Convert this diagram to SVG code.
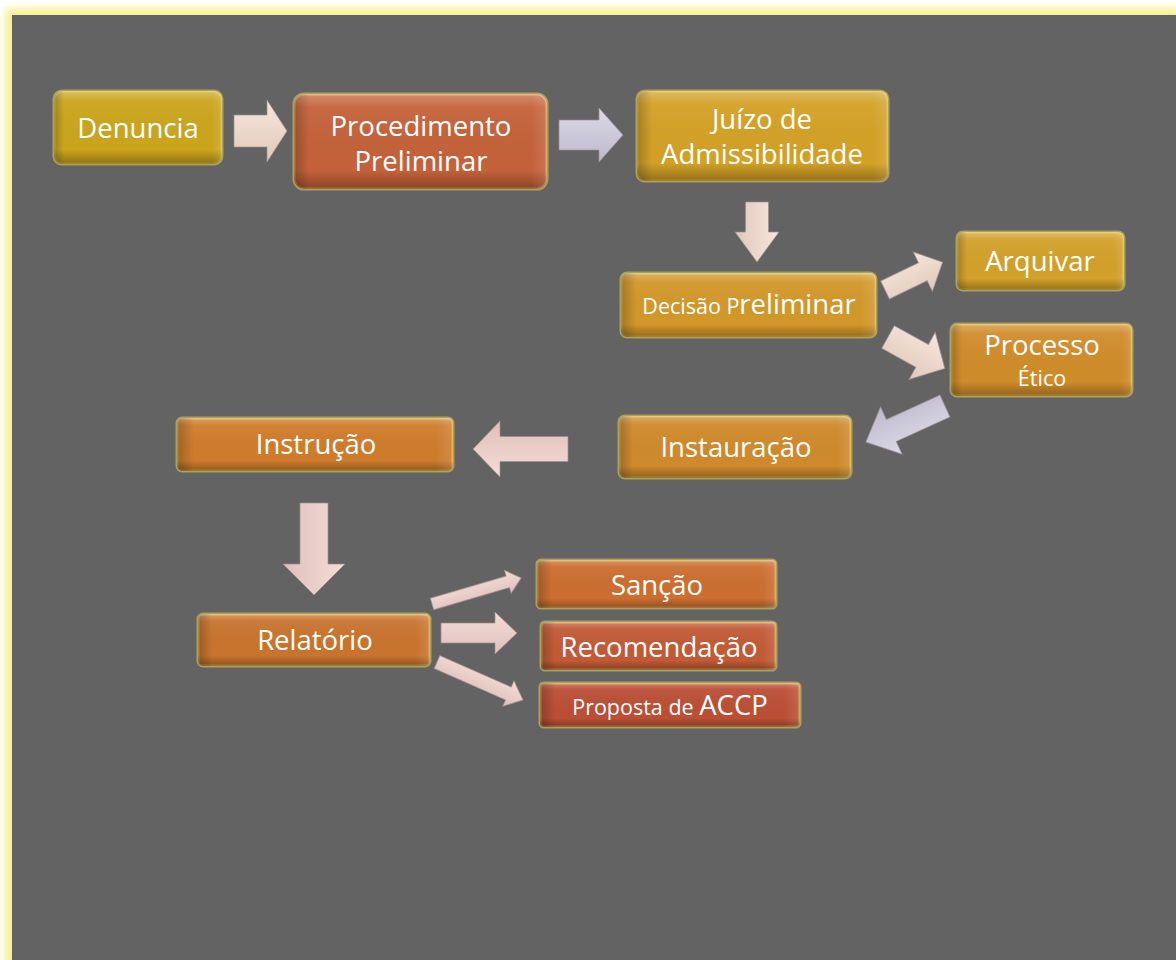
<svg xmlns="http://www.w3.org/2000/svg" width="1176" height="960" viewBox="0 0 1176 960">
<defs>
<filter id="blur" x="-5%" y="-5%" width="110%" height="110%"><feGaussianBlur stdDeviation="5"/></filter>
<linearGradient id="vb" x1="0" y1="0" x2="0" y2="1">
<stop offset="0" stop-color="#fff" stop-opacity="0.28"/>
<stop offset="0.14" stop-color="#fff" stop-opacity="0.05"/>
<stop offset="0.8" stop-color="#000" stop-opacity="0"/>
<stop offset="1" stop-color="#000" stop-opacity="0.3"/>
</linearGradient>
<linearGradient id="hb" x1="0" y1="0" x2="1" y2="0">
<stop offset="0" stop-color="#000" stop-opacity="0.22"/>
<stop offset="0.06" stop-color="#000" stop-opacity="0"/>
<stop offset="0.94" stop-color="#fff" stop-opacity="0"/>
<stop offset="1" stop-color="#fff" stop-opacity="0.12"/>
</linearGradient>
<linearGradient id="peach" x1="0" y1="0" x2="0" y2="1">
<stop offset="0" stop-color="#f6e6dc"/><stop offset="1" stop-color="#e2c8bb"/>
</linearGradient>
<linearGradient id="lav" x1="0" y1="0" x2="0" y2="1">
<stop offset="0" stop-color="#dcdae6"/><stop offset="1" stop-color="#bdb9cc"/>
</linearGradient>
<linearGradient id="pink" x1="0" y1="0" x2="0" y2="1">
<stop offset="0" stop-color="#f4dcd8"/><stop offset="1" stop-color="#e0c0bb"/>
</linearGradient>
</defs>
<style>
.box{stroke:#e9d45c;stroke-opacity:0.55;stroke-width:3}
.ov{stroke:none}
.t{fill:#fff;font-family:"Open Sans","Liberation Sans",sans-serif;font-size:27.5px;text-anchor:middle}
.s{font-size:21.5px}
.arrow{stroke:#9c8f8a;stroke-width:1;stroke-opacity:0.7}
.pe{fill:url(#peach)}
.la{fill:url(#lav)}
.pi{fill:url(#pink)}
</style>
<rect x="0" y="0" width="1176" height="960" fill="#ffffff"/>
<rect x="12" y="15" width="1164" height="945" fill="none" stroke="#f7ee7c" stroke-width="12" filter="url(#blur)"/>
<rect x="12" y="15" width="1164" height="945" fill="#636363"/>

<g id="connectors">
<path class="arrow pe" transform="translate(234,131)" d="M0,-16 L33,-16 L33,-31 L53,0 L33,31 L33,16 L0,16Z"/>
<path class="arrow la" transform="translate(559,135)" d="M0,-15 L40,-15 L40,-27 L64,0 L40,27 L40,15 L0,15Z"/>
<path class="arrow pe" transform="translate(757,202) rotate(90)" d="M0,-11.5 L30,-11.5 L30,-22 L60,0 L30,22 L30,11.5 L0,11.5Z"/>
<path class="arrow pe" transform="translate(885,290) rotate(-25.8)" d="M0,-10 L42,-10 L42,-22 L64,0 L42,22 L42,10 L0,10Z"/>
<path class="arrow pe" transform="translate(888,337) rotate(29)" d="M0,-13 L39,-13 L39,-27 L65,0 L39,27 L39,13 L0,13Z"/>
<path class="arrow la" transform="translate(945,406) rotate(155.5)" d="M0,-12 L59,-12 L59,-26 L87,0 L59,26 L59,12 L0,12Z"/>
<path class="arrow pi" transform="translate(568,449) rotate(180)" d="M0,-12.5 L68,-12.5 L68,-28 L95,0 L68,28 L68,12.5 L0,12.5Z"/>
<path class="arrow pi" transform="translate(314,503) rotate(90)" d="M0,-14 L61,-14 L61,-31 L92,0 L61,31 L61,14 L0,14Z"/>
<path class="arrow pi" transform="translate(432,604) rotate(-16.3)" d="M0,-6 L79,-6 L79,-12 L93,0 L79,12 L79,6 L0,6Z"/>
<path class="arrow pi" transform="translate(441,633)" d="M0,-10 L54,-10 L54,-21 L76,0 L54,21 L54,10 L0,10Z"/>
<path class="arrow pi" transform="translate(437,662) rotate(23.8)" d="M0,-7 L78,-7 L78,-14 L94,0 L78,14 L78,7 L0,7Z"/>
</g>

<g id="n-denuncia">
<rect class="box" x="54" y="91" width="168" height="73" rx="8" fill="#cba51c"/>
<rect class="ov" x="54" y="91" width="168" height="73" rx="8" fill="url(#vb)"/>
<rect class="ov" x="54" y="91" width="168" height="73" rx="8" fill="url(#hb)"/>
<text class="t" x="138" y="138">Denuncia</text>
</g>
<g id="n-procedimento">
<rect class="box" x="294" y="94" width="253" height="95" rx="10" fill="#c4623a" stroke="#d98b5a"/>
<rect class="ov" x="294" y="94" width="253" height="95" rx="10" fill="url(#vb)"/>
<rect class="ov" x="294" y="94" width="253" height="95" rx="10" fill="url(#hb)"/>
<text class="t" x="421" y="136">Procedimento</text>
<text class="t" x="421" y="171">Preliminar</text>
</g>
<g id="n-juizo">
<rect class="box" x="637" y="91" width="251" height="90" rx="8" fill="#d3a126"/>
<rect class="ov" x="637" y="91" width="251" height="90" rx="8" fill="url(#vb)"/>
<rect class="ov" x="637" y="91" width="251" height="90" rx="8" fill="url(#hb)"/>
<text class="t" x="762" y="129">Juízo de</text>
<text class="t" x="762" y="164">Admissibilidade</text>
</g>
<g id="n-decisao">
<rect class="box" x="621" y="273" width="255" height="64" rx="6" fill="#d2982a"/>
<rect class="ov" x="621" y="273" width="255" height="64" rx="6" fill="url(#vb)"/>
<rect class="ov" x="621" y="273" width="255" height="64" rx="6" fill="url(#hb)"/>
<text class="t" x="749" y="314"><tspan class="s">Decisão P</tspan>reliminar</text>
</g>
<g id="n-arquivar">
<rect class="box" x="957" y="232" width="167" height="58" rx="6" fill="#d3a12a"/>
<rect class="ov" x="957" y="232" width="167" height="58" rx="6" fill="url(#vb)"/>
<rect class="ov" x="957" y="232" width="167" height="58" rx="6" fill="url(#hb)"/>
<text class="t" x="1040" y="271">Arquivar</text>
</g>
<g id="n-processo">
<rect class="box" x="951" y="324" width="181" height="72" rx="6" fill="#d08c2a"/>
<rect class="ov" x="951" y="324" width="181" height="72" rx="6" fill="url(#vb)"/>
<rect class="ov" x="951" y="324" width="181" height="72" rx="6" fill="url(#hb)"/>
<text class="t" x="1042" y="355">Processo</text>
<text class="t s" x="1042" y="386">Ético</text>
</g>
<g id="n-instauracao">
<rect class="box" x="619" y="416" width="232" height="62" rx="6" fill="#cf8a2c"/>
<rect class="ov" x="619" y="416" width="232" height="62" rx="6" fill="url(#vb)"/>
<rect class="ov" x="619" y="416" width="232" height="62" rx="6" fill="url(#hb)"/>
<text class="t" x="736" y="457">Instauração</text>
</g>
<g id="n-instrucao">
<rect class="box" x="177" y="418" width="276" height="53" rx="5" fill="#cf7c2c"/>
<rect class="ov" x="177" y="418" width="276" height="53" rx="5" fill="url(#vb)"/>
<rect class="ov" x="177" y="418" width="276" height="53" rx="5" fill="url(#hb)"/>
<text class="t" x="316" y="454">Instrução</text>
</g>
<g id="n-relatorio">
<rect class="box" x="198" y="614" width="232" height="52" rx="5" fill="#c8742e"/>
<rect class="ov" x="198" y="614" width="232" height="52" rx="5" fill="url(#vb)"/>
<rect class="ov" x="198" y="614" width="232" height="52" rx="5" fill="url(#hb)"/>
<text class="t" x="315" y="650">Relatório</text>
</g>
<g id="n-sancao">
<rect class="box" x="537" y="560" width="239" height="48" rx="4" fill="#cc6e30"/>
<rect class="ov" x="537" y="560" width="239" height="48" rx="4" fill="url(#vb)"/>
<rect class="ov" x="537" y="560" width="239" height="48" rx="4" fill="url(#hb)"/>
<text class="t" x="657" y="595">Sanção</text>
</g>
<g id="n-recomendacao">
<rect class="box" x="541" y="622" width="235" height="48" rx="4" fill="#c25a36"/>
<rect class="ov" x="541" y="622" width="235" height="48" rx="4" fill="url(#vb)"/>
<rect class="ov" x="541" y="622" width="235" height="48" rx="4" fill="url(#hb)"/>
<text class="t" x="659" y="657">Recomendação</text>
</g>
<g id="n-proposta">
<rect class="box" x="540" y="683" width="260" height="44" rx="4" fill="#bb4f36"/>
<rect class="ov" x="540" y="683" width="260" height="44" rx="4" fill="url(#vb)"/>
<rect class="ov" x="540" y="683" width="260" height="44" rx="4" fill="url(#hb)"/>
<text class="t" x="670" y="715"><tspan class="s">Proposta de </tspan>ACCP</text>
</g>
</svg>
